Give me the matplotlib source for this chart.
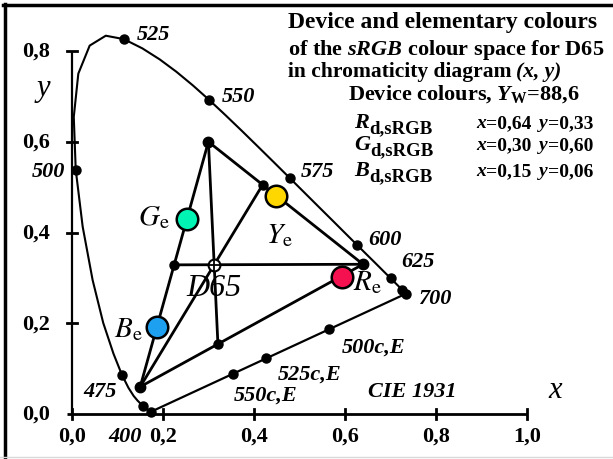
import numpy as np
import matplotlib.pyplot as plt
from matplotlib.lines import Line2D

plt.rcParams['font.family'] = ['Liberation Serif', 'DejaVu Serif']
plt.rcParams['mathtext.fontset'] = 'custom'
plt.rcParams['mathtext.rm'] = 'Liberation Serif:bold'
plt.rcParams['mathtext.it'] = 'Liberation Serif:italic:bold'
plt.rcParams['mathtext.bf'] = 'Liberation Serif:bold'

# CIE 1931 spectral locus, 400..700 nm in 5 nm steps
wavelengths = list(range(400, 705, 5))
locus_x = [0.1733, 0.1730, 0.1726, 0.1721, 0.1714, 0.1703, 0.1689, 0.1669, 0.1644, 0.1611,
           0.1566, 0.1510, 0.1440, 0.1355, 0.1241, 0.1096, 0.0913, 0.0687, 0.0454, 0.0235,
           0.0082, 0.0039, 0.0139, 0.0389, 0.0743, 0.1142, 0.1547, 0.1929, 0.2296, 0.2658,
           0.3016, 0.3373, 0.3731, 0.4087, 0.4441, 0.4788, 0.5125, 0.5448, 0.5752, 0.6029,
           0.6270, 0.6482, 0.6658, 0.6801, 0.6915, 0.7006, 0.7079, 0.7140, 0.7190, 0.7230,
           0.7260, 0.7283, 0.7300, 0.7311, 0.7320, 0.7327, 0.7334, 0.7340, 0.7344, 0.7346,
           0.7347]
locus_y = [0.0048, 0.0048, 0.0048, 0.0048, 0.0051, 0.0058, 0.0069, 0.0086, 0.0109, 0.0138,
           0.0177, 0.0227, 0.0297, 0.0399, 0.0578, 0.0868, 0.1327, 0.2007, 0.2950, 0.4127,
           0.5384, 0.6548, 0.7502, 0.8120, 0.8338, 0.8262, 0.8059, 0.7816, 0.7543, 0.7243,
           0.6923, 0.6589, 0.6245, 0.5896, 0.5547, 0.5202, 0.4866, 0.4544, 0.4242, 0.3965,
           0.3725, 0.3514, 0.3340, 0.3197, 0.3083, 0.2993, 0.2920, 0.2859, 0.2809, 0.2770,
           0.2740, 0.2717, 0.2700, 0.2689, 0.2680, 0.2673, 0.2666, 0.2660, 0.2656, 0.2654,
           0.2653]

dot_wl = [400, 450, 475, 500, 525, 550, 575, 600, 625, 650, 700]
label_wl = [400, 475, 500, 525, 550, 575, 600, 625, 700]
# label offsets in pixels (dx, dy, ha)
label_off = {400: (-26, -24, 'center'), 475: (-5, -16, 'right'), 500: (-11, -1, 'right'),
             525: (13, 5, 'left'), 550: (13, 4, 'left'), 575: (11, 7, 'left'),
             600: (11, 6, 'left'), 625: (11, 17, 'left'), 700: (12, -4, 'left')}

comp_wl = [500, 525, 550]
comp_off = {500: (13, -17), 525: (12, -15), 550: (0, -21)}

# sRGB device colours and white point
dev_names = ['R', 'G', 'B']
dev_x = [0.64, 0.30, 0.15]
dev_y = [0.33, 0.60, 0.06]
d65 = (0.3127, 0.3290)
ee = (1 / 3, 1 / 3)
y_white = 88.6

# elementary colours
elem_names = ['R', 'Y', 'G', 'B']
elem_x = [0.593, 0.449, 0.253, 0.186]
elem_y = [0.303, 0.481, 0.430, 0.192]
elem_col = ['#f5104f', '#ffd700', '#00f5b4', '#1ea0f0']
elem_off = {'R': (11, -5, 'left'), 'Y': (3, -39, 'center'),
            'G': (-17, 2, 'right'), 'B': (-14, -2, 'right')}

x_ticks = [0.0, 0.2, 0.4, 0.6, 0.8, 1.0]
y_ticks = [0.0, 0.2, 0.4, 0.6, 0.8]


def cross(p, q, a, b):
    """intersection of line p-q with line a-b"""
    p, q, a, b = map(np.asarray, (p, q, a, b))
    m = np.array([q - p, a - b]).T
    t, s = np.linalg.solve(m, a - p)
    return p + t * (q - p)


def spec(w):
    i = wavelengths.index(w)
    return locus_x[i], locus_y[i]


def comma(v, fmt='%.1f'):
    return (fmt % v).replace('.', ',')


fig = plt.figure(figsize=(6.13, 4.6), dpi=100)
ax = fig.add_axes([0, 0, 1, 1])
ax.set_xlim(-72 / 454.7, 541 / 454.7)
ax.set_ylim(-45 / 453.7, 415 / 453.7)
ax.axis('off')

k = 'black'
fs = 16
# axes
ax.plot([-0.011, 1.0], [0, 0], color=k, lw=2.0, solid_capstyle='butt')
ax.plot([0, 0], [0, 0.8], color=k, lw=1.6, solid_capstyle='butt')
for t in x_ticks:
    ax.plot([t, t], [-0.012, 0.012], color=k, lw=2)
    ax.annotate(comma(t), (t, 0), xytext=(0, -22), textcoords='offset pixels',
                ha='center', va='center', fontsize=fs, fontweight='bold')
for t in y_ticks:
    if t > 0:
        ax.plot([-0.012, 0.012], [t, t], color=k, lw=2)
    ax.annotate(comma(t), (0, t), xytext=(-22, 0), textcoords='offset pixels',
                ha='right', va='center', fontsize=fs, fontweight='bold')

ax.text(1.062, 0.055, 'x', fontsize=22, style='italic', ha='center', va='center')
ax.text(-0.064, 0.72, 'y', fontsize=22, style='italic', ha='center', va='center')
ax.text(0.748, 0.05, 'CIE 1931', fontsize=fs, fontweight='bold', style='italic',
        ha='center', va='center')

# spectral locus and purple line
ax.plot(locus_x, locus_y, color=k, lw=1.5, zorder=3)
p400, p700 = spec(400), spec(700)
ax.plot([p400[0], p700[0]], [p400[1], p700[1]], color=k, lw=1.6, zorder=3)
for w in dot_wl:
    px, py = spec(w)
    ax.plot(px, py, 'o', color=k, ms=6.5, zorder=5)
for w in label_wl:
    dx, dy, ha = label_off[w]
    ax.annotate(str(w), spec(w), xytext=(dx, dy), textcoords='offset pixels',
                ha=ha, va='center', fontsize=fs, fontweight='bold', style='italic')
for w in comp_wl:
    c = cross(spec(w), ee, p400, p700)
    ax.plot(c[0], c[1], 'o', color=k, ms=6.5, zorder=5)
    dx, dy = comp_off[w]
    ax.annotate('%dc,E' % w, c, xytext=(dx, dy), textcoords='offset pixels',
                ha='left', va='center', fontsize=fs, fontweight='bold', style='italic')

# device triangle and lines through D65
tri_x = dev_x + [dev_x[0]]
tri_y = dev_y + [dev_y[0]]
ax.plot(tri_x, tri_y, color=k, lw=2, zorder=4)
for i in range(3):
    v = (dev_x[i], dev_y[i])
    o1 = (dev_x[(i + 1) % 3], dev_y[(i + 1) % 3])
    o2 = (dev_x[(i + 2) % 3], dev_y[(i + 2) % 3])
    c = cross(v, d65, o1, o2)
    ax.plot([v[0], c[0]], [v[1], c[1]], color=k, lw=2, zorder=4)
    ax.plot(c[0], c[1], 'o', color=k, ms=6.5, zorder=6)
    ax.plot(v[0], v[1], 'o', color=k, ms=7.5, zorder=6)

ax.plot(d65[0], d65[1], 'o', mfc='white', mec=k, mew=1.5, ms=8.5, zorder=7)
ax.plot(d65[0], d65[1], '+', color=k, mew=1.3, ms=8.5, zorder=8)
ax.annotate('D65', d65, xytext=(0, -23), textcoords='offset pixels', ha='center',
            va='center', fontsize=23, style='italic')

# elementary colours
for n, ex, ey, col in zip(elem_names, elem_x, elem_y, elem_col):
    ax.plot(ex, ey, 'o', mfc=col, mec=k, mew=1.8, ms=15.5, zorder=9)
    dx, dy, ha = elem_off[n]
    ax.annotate(r'$%s_\mathrm{e}$' % n, (ex, ey), xytext=(dx, dy),
                textcoords='offset pixels', ha=ha, va='center', fontsize=21,
                math_fontfamily='stix')

renderer = fig.canvas.get_renderer()


def ftext(px, py, s, size=fs, italic=False):
    t = fig.text(px / 613, 1 - py / 460, s, fontsize=size, fontweight='bold',
                 style='italic' if italic else 'normal', va='baseline')
    return t.get_window_extent(renderer).x1


def chain(px, py, parts, gap=0):
    # parts: (text, size, italic, baseline shift)
    for s, size, it, dy in parts:
        px = ftext(px, py + dy, s, size, it) + gap
    return px


ftext(288, 28, 'Device and elementary colours', size=17)
ftext(288, 55, r'of the $sRGB$ colour space for D65')
end = ftext(288, 77, 'in chromaticity diagram', size=15.5)
ftext(end + 4, 77, '(x, y)', size=15.5, italic=True)
ftext(348, 100, r'Device colours, $Y_\mathrm{W}$=' + comma(y_white))
for i, base in enumerate([128, 150, 176]):
    chain(354, base, [(dev_names[i], 16, True, 0), ('d,sRGB', 13.5, False, 5)])
    end = chain(476, base, [('x', 14, True, 0),
                            ('=' + comma(dev_x[i], '%.2f'), 14, False, 0)])
    chain(end + 8, base, [('y', 14, True, 0),
                          ('=' + comma(dev_y[i], '%.2f'), 14, False, 0)])

# frame
fig.add_artist(Line2D([4.5 / 613, 4.5 / 613], [0, 1 - 5 / 460], color=k, lw=2.5))
fig.add_artist(Line2D([3 / 613, 1], [1 - 6 / 460, 1 - 6 / 460], color=k, lw=2.5))
fig.add_artist(Line2D([0, 1], [2.5 / 460, 2.5 / 460], color='#d8d8d8', lw=1))

fig.savefig('out.png', dpi=100)
